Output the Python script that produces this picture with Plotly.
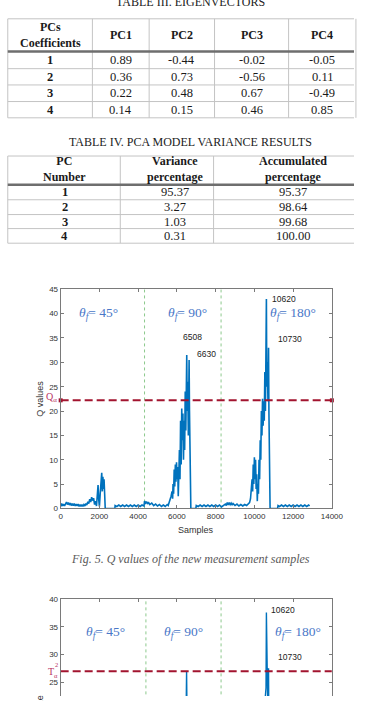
import plotly.graph_objects as go

W, H = 366, 701
SERIF = "Liberation Serif"
SANS = "Liberation Sans"

# ---------------- data ----------------
# Table III: eigenvectors
eig_title = "TABLE III. EIGENVECTORS"
eig_header = ["PCs<br>Coefficients", "PC1", "PC2", "PC3", "PC4"]
eig_rows = ["1", "2", "3", "4"]
pc1 = [0.89, 0.36, 0.22, 0.14]
pc2 = [-0.44, 0.73, 0.48, 0.15]
pc3 = [-0.02, -0.56, 0.67, 0.46]
pc4 = [-0.05, 0.11, -0.49, 0.85]

# Table IV: variance
var_title = "TABLE IV. PCA MODEL VARIANCE RESULTS"
var_header = ["PC<br>Number", "Variance<br>percentage", "Accumulated<br>percentage"]
var_rows = ["1", "2", "3", "4"]
var_pct = [95.37, 3.27, 1.03, 0.31]
acc_pct = [95.37, 98.64, 99.68, 100.00]

# Fig. 5: Q values
q_samples = [
    0, 50, 100, 150, 200, 250, 300, 350, 400, 450,
    500, 550, 600, 650, 700, 750, 800, 850, 900, 950,
    1000, 1050, 1100, 1150, 1200, 1250, 1300, 1350, 1400, 1450,
    1500, 1550, 1600, 1650, 1700, 1750, 1800, 1850, 1900, 1930, 1960,
    2000, 2040, 2080, 2120, 2150, 2180, 2210, 2240, 2270, 2300, 2800,
    2810, 2900, 3000, 3100, 3200, 3300, 3400, 3500, 3600, 3700, 3800, 3900, 4000, 4100, 4200, 4300,
    4330, 4380, 4430, 4480, 4530, 4600, 4700, 4800, 4900, 5000, 5100, 5200, 5300, 5400, 5500, 5550, 5600,
    5650, 5700, 5750, 5780, 5800, 5830, 5860, 5890, 5920, 5950,
    5980, 6010, 6040, 6070, 6100, 6130, 6160, 6190, 6220, 6250,
    6280, 6310, 6340, 6370, 6400, 6430, 6460, 6490, 6508, 6530,
    6560, 6590, 6610, 6630, 6650, 6680, 6700, 6720, 6980,
    7000, 7100, 7200, 7300, 7400, 7500, 7600, 7700, 7800, 7900, 8000, 8100, 8200, 8300,
    8400, 8500, 8550, 8600, 8650, 8700, 8750, 8800, 8850, 8900, 9000, 9100, 9200, 9300, 9400, 9500, 9600, 9700,
    9750, 9800, 9850, 9880, 9910, 9940, 9970, 10000, 10030, 10060,
    10090, 10120, 10150, 10180, 10210, 10240, 10270, 10300, 10330, 10360,
    10390, 10420, 10450, 10480, 10510, 10540, 10570, 10600, 10620, 10640,
    10670, 10700, 10730, 10750, 10770, 10790, 10810, 11200,
    11220, 11300, 11400, 11500, 11600, 11700, 11800, 11900, 12000, 12100, 12200, 12300, 12400, 12500,
    12600, 12700, 12800, 12850,
]
q_values = [
    0.4, 1.0, 0.5, 0.9, 0.5, 1.0, 1.3, 0.8, 1.2, 0.7,
    1.1, 0.6, 1.0, 0.6, 1.0, 0.5, 0.9, 0.5, 0.9, 0.4,
    0.8, 0.4, 0.8, 0.4, 0.8, 0.5, 1.0, 0.7, 1.4, 1.0,
    1.9, 1.3, 2.3, 1.6, 2.1, 0.8, 1.5, 0.5, 3.5, 4.8, 2.0,
    0.4, 3.0, 5.0, 7.3, 3.5, 6.5, 4.0, 6.0, 3.0, 0.0, 0.0,
    0.6, 0.4, 0.7, 0.4, 0.7, 0.4, 0.7, 0.4, 0.7, 0.4, 0.7, 0.4, 0.7, 0.4, 0.7, 0.5,
    1.5, 1.1, 1.4, 0.9, 1.3, 0.8, 1.1, 0.6, 0.9, 0.5, 0.8, 0.4, 0.7, 0.4, 0.8, 0.6, 1.2,
    1.5, 2.5, 3.5, 2.0, 5.0, 3.0, 8.0, 4.5, 9.0, 5.5,
    9.5, 6.0, 8.5, 2.5, 7.0, 12.0, 6.0, 18.0, 9.0, 20.5,
    14.0, 19.5, 10.0, 18.0, 12.0, 24.0, 16.0, 28.0, 31.5, 20.0,
    26.0, 15.0, 28.0, 30.5, 20.0, 8.0, 2.0, 0.0, 0.0,
    0.6, 0.4, 0.7, 0.4, 0.7, 0.4, 0.7, 0.4, 0.7, 0.4, 0.7, 0.4, 0.7, 0.3,
    0.6, 0.9, 0.6, 1.2, 0.7, 1.2, 0.8, 1.1, 0.7, 1.0, 0.6, 0.9, 0.5, 0.8, 0.5, 0.8, 0.6, 0.9,
    1.2, 2.0, 4.0, 6.0, 3.5, 9.0, 5.0, 10.5, 6.0, 10.0,
    4.0, 7.0, 1.5, 5.0, 3.0, 10.0, 6.0, 14.0, 10.0, 20.0,
    15.0, 22.5, 17.0, 22.0, 18.0, 28.0, 20.0, 35.0, 43.0, 25.0,
    30.0, 22.0, 33.0, 20.0, 8.0, 1.0, 0.0, 0.0,
    0.6, 0.4, 0.7, 0.4, 0.7, 0.4, 0.7, 0.4, 0.7, 0.4, 0.7, 0.4, 0.7, 0.4,
    0.7, 0.4, 0.7, 0.5,
]
q_alpha = 22.2
q_bounds = [4330, 8280]
q_peak_labels = ["6508", "6630", "10620", "10730"]
q_peak_label_x = [6200, 6950, 10820, 11120]
q_peak_label_y = [35.1, 31.8, 43.0, 34.7]
q_theta_x = [1936, 6553, 12014]
q_theta_y = 40.0
theta_values = ["45°", "90°", "180°"]
fig5_caption = "Fig. 5. Q values of the new measurement samples"

# Fig. 6: T2 values (upper part visible)
t2_samples = [0, 1000, 2100, 3000, 4400, 5900, 6450, 6500, 6550, 7500, 9000,
              10000, 10400, 10600, 10620, 10640, 10700, 10730, 10760, 11500, 12850]
t2_values = [1.0, 1.5, 6.0, 0.5, 1.5, 8.0, 12.0, 27.0, 10.0, 0.5, 1.0,
             9.0, 15.0, 24.0, 37.6, 20.0, 18.0, 27.5, 10.0, 0.5, 0.5]
t2_alpha = 27.0
t2_bounds = [4400, 8280]
t2_peak_labels = ["10620", "10730"]
t2_peak_label_x = [10780, 11120]
t2_peak_label_y = [38.0, 29.5]
t2_theta_x = [2330, 6355, 12262]
t2_theta_y = 33.9

x_ticks = [0, 2000, 4000, 6000, 8000, 10000, 12000, 14000]

# ---------------- helpers ----------------
def fx(px):
    return px / W

def fy(py):
    return 1 - py / H

annotations = []
shapes = []

def ann(text, px, py, size, color="#1a1a1a", family=SERIF, xanchor="center",
        yanchor="middle", angle=0):
    annotations.append(dict(text=text, x=fx(px), y=fy(py), xref="paper", yref="paper",
                            showarrow=False, xanchor=xanchor, yanchor=yanchor,
                            textangle=angle,
                            font=dict(family=family, size=size, color=color)))

def hline(x0, x1, py, color="#C4C4C4", width=1):
    shapes.append(dict(type="line", xref="paper", yref="paper", x0=fx(x0), x1=fx(x1),
                       y0=fy(py), y1=fy(py), line=dict(color=color, width=width)))

def vline(px, y0, y1, color="#C4C4C4", width=1):
    shapes.append(dict(type="line", xref="paper", yref="paper", x0=fx(px), x1=fx(px),
                       y0=fy(y0), y1=fy(y1), line=dict(color=color, width=width)))

def bold(s):
    return "<b>" + s.replace("<br>", "</b><br><b>") + "</b>"

# ---------------- Table III ----------------
t3_cols = [6, 94, 153, 221, 298, 368]
t3_centers = [50, 123.5, 187, 259.5, 333]
t3_top, t3_head = 15, 48
t3_rows = [48, 65.5, 82, 98.8, 115.3]
ann(eig_title, 196, -2.5, 12, color="#222")
for c in t3_cols:
    vline(c, t3_top, t3_rows[-1])
hline(6, 366, t3_top)
for r in t3_rows[1:]:
    hline(6, 366, r)
hline(6, 366, t3_head, color="#6E6E6E", width=2.5)
for j, h in enumerate(eig_header):
    ann(bold(h), t3_centers[j], (t3_top + t3_head) / 2, 12)
for i, r in enumerate(eig_rows):
    yc = (t3_rows[i] + t3_rows[i + 1]) / 2
    ann(bold(r), t3_centers[0], yc, 12.5)
    for j, col in enumerate([pc1, pc2, pc3, pc4]):
        ann(f"{col[i]:.2f}", t3_centers[j + 1], yc, 12.5)

# ---------------- Table IV ----------------
t4_cols = [6, 123, 220, 386]
t4_centers = [65, 180, 303]
t4_top, t4_head = 154, 183
t4_rows = [183, 198.3, 213.3, 227.5, 242.3]
ann(var_title, 196, 139.5, 12, color="#222")
for c in t4_cols:
    vline(c, t4_top, t4_rows[-1])
hline(6, 366, t4_top)
for r in t4_rows[1:]:
    hline(6, 366, r)
hline(6, 366, t4_head, color="#6E6E6E", width=2.5)
for j, h in enumerate(var_header):
    ann(bold(h), t4_centers[j], (t4_top + t4_head) / 2 - 1.5, 12)
for i, r in enumerate(var_rows):
    yc = (t4_rows[i] + t4_rows[i + 1]) / 2
    ann(bold(r), t4_centers[0], yc, 12.5)
    ann(f"{var_pct[i]:.2f}", t4_centers[1], yc, 12.5)
    ann(f"{acc_pct[i]:.2f}", t4_centers[2], yc, 12.5)

# ---------------- Figures ----------------
BLUE = "#0072BD"
RED = "#A2142F"
GREEN = "#8CC98C"
THETA = "#4A78C8"
AXC = "#7A7A7A"

fig = go.Figure()

# Fig 5
for b in q_bounds:
    fig.add_trace(go.Scatter(x=[b, b], y=[0, 45], mode="lines",
                             line=dict(color=GREEN, width=1, dash="dot"),
                             xaxis="x", yaxis="y", hoverinfo="skip"))
fig.add_trace(go.Scatter(x=q_samples, y=q_values, mode="lines",
                         line=dict(color=BLUE, width=1.6), xaxis="x", yaxis="y"))
fig.add_trace(go.Scatter(x=[0, 14000], y=[q_alpha, q_alpha], mode="lines+markers",
                         line=dict(color=RED, width=2, dash="8px,4px"),
                         marker=dict(symbol="square", size=4, color=RED),
                         cliponaxis=False, xaxis="x", yaxis="y"))

# Fig 6
for b in t2_bounds:
    fig.add_trace(go.Scatter(x=[b, b], y=[0, 40], mode="lines",
                             line=dict(color=GREEN, width=1, dash="dot"),
                             xaxis="x2", yaxis="y2", hoverinfo="skip"))
fig.add_trace(go.Scatter(x=t2_samples, y=t2_values, mode="lines",
                         line=dict(color=BLUE, width=1.4), xaxis="x2", yaxis="y2"))
fig.add_trace(go.Scatter(x=[0, 14000], y=[t2_alpha, t2_alpha], mode="lines",
                         line=dict(color=RED, width=2, dash="8px,4px"),
                         xaxis="x2", yaxis="y2"))

for lab, lx, ly in zip(q_peak_labels, q_peak_label_x, q_peak_label_y):
    annotations.append(dict(text=lab, x=lx, y=ly, xref="x", yref="y", showarrow=False,
                            xanchor="left", yanchor="middle",
                            font=dict(family=SANS, size=8.5, color="#222")))
for lab, lx, ly in zip(t2_peak_labels, t2_peak_label_x, t2_peak_label_y):
    annotations.append(dict(text=lab, x=lx, y=ly, xref="x2", yref="y2", showarrow=False,
                            xanchor="left", yanchor="middle",
                            font=dict(family=SANS, size=8.5, color="#222")))
for tv, tx in zip(theta_values, q_theta_x):
    annotations.append(dict(text=f"<i>θ</i><sub><i>f</i></sub>= {tv}", x=tx, y=q_theta_y,
                            xref="x", yref="y", showarrow=False,
                            font=dict(family=SERIF, size=13.5, color=THETA)))
for tv, tx in zip(theta_values, t2_theta_x):
    annotations.append(dict(text=f"<i>θ</i><sub><i>f</i></sub>= {tv}", x=tx, y=t2_theta_y,
                            xref="x2", yref="y2", showarrow=False,
                            font=dict(family=SERIF, size=13.5, color=THETA)))

# threshold labels
ann("Q<sub>α</sub>", 59, 399, 10, color="#B83262", xanchor="right")
ann("T", 51, 676, 10, color="#B83262")
ann("2", 56.5, 669.5, 6.5, color="#B83262")
ann("α", 56.5, 680.5, 6.5, color="#B83262")

# axis titles / captions
ann("Samples", 201.5, 533, 9, color="#333", family=SANS)
ann("Q values", 39.5, 400, 9, color="#333", family=SANS, angle=-90)
ann("T² value", 39.5, 716, 9, color="#333", family=SANS, angle=-90)
ann("<i>" + fig5_caption + "</i>", 196, 562, 12, color="#5A5A5A")

axis_common = dict(showgrid=False, zeroline=False, showline=True, linecolor=AXC,
                   linewidth=1, ticks="inside", ticklen=3, tickcolor=AXC,
                   tickfont=dict(family=SANS, size=8, color="#333"))

fig.update_layout(
    width=W, height=H, margin=dict(l=0, r=0, t=0, b=0),
    paper_bgcolor="white", plot_bgcolor="white", showlegend=False,
    xaxis=dict(domain=[fx(61), fx(343)], range=[0, 14000],
               tickvals=x_ticks, tickformat="d",
               mirror="ticks", anchor="y", **axis_common),
    yaxis=dict(domain=[fy(511), fy(289)], range=[0, 45],
               tickvals=[0, 5, 10, 15, 20, 25, 30, 35, 40, 45],
               mirror="ticks", anchor="x", **axis_common),
    xaxis2=dict(domain=[fx(61), fx(343)], range=[0, 14000],
                tickvals=x_ticks,
                side="top", showticklabels=False, anchor="y2", **axis_common),
    yaxis2=dict(domain=[0, fy(603)], range=[22.5, 40],
                tickvals=[25, 30, 35, 40], mirror="ticks", anchor="x2", **axis_common),
    annotations=annotations, shapes=shapes,
)

fig.write_html("out.html", config={"displayModeBar": False})
